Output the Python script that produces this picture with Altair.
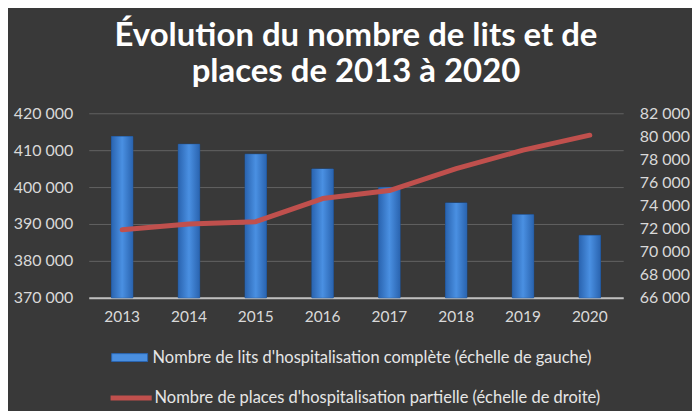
import altair as alt
import pandas as pd

years = ["2013", "2014", "2015", "2016", "2017", "2018", "2019", "2020"]
lits = [413700, 411600, 408900, 404900, 399900, 395700, 392500, 386900]
places = [71900, 72400, 72600, 74600, 75300, 77200, 78800, 80100]
label_lits = "Nombre de lits d'hospitalisation complète (échelle de gauche)"
label_places = "Nombre de places d'hospitalisation partielle (échelle de droite)"
left_ticks = [370000, 380000, 390000, 400000, 410000, 420000]
right_ticks = [66000, 68000, 70000, 72000, 74000, 76000, 78000, 80000, 82000]
title_lines = ["Évolution du nombre de lits et de", "places de 2013 à 2020"]

df = pd.DataFrame({"annee": years, "lits": lits, "places": places,
                   "s1": label_lits, "s2": label_places})

FONT = "Lato"
TXT = "#d9d9d9"
lab_expr = "replace(format(datum.value, ','), ',', ' ')"

x_enc = alt.X("annee:N", sort=years,
              scale=alt.Scale(paddingInner=0.68, paddingOuter=0.34),
              axis=alt.Axis(title=None, labelAngle=0, labelColor=TXT, labelFontSize=15.5,
                            labelFont=FONT, labelPadding=12, ticks=False,
                            domainColor="#bfbfbf", domainWidth=2, grid=False))

y_left = alt.Y("lits:Q", scale=alt.Scale(domain=[370000, 420000], zero=False, nice=False),
               axis=alt.Axis(title=None, values=left_ticks, labelExpr=lab_expr,
                             labelColor=TXT, labelFontSize=16, labelFont=FONT,
                             labelPadding=16, ticks=False, domain=False,
                             grid=True, gridColor="#626262", gridWidth=1))

base = alt.Chart(df)

bars = base.mark_bar(stroke="#1d4f8f", strokeWidth=1).encode(
    x=x_enc,
    y=y_left,
    y2=alt.Y2Datum(370000),
    color=alt.Color("s1:N", scale=alt.Scale(domain=[label_lits], range=["#4a8fe0"]),
                    legend=alt.Legend(orient="none", legendX=22, legendY=226, title=None,
                                      symbolType="M-1,-0.22H1V0.22H-1Z", symbolSize=1300,
                                      symbolStrokeColor="#2a64b0", symbolStrokeWidth=1,
                                      labelColor="#e6e6e6", labelFontSize=16.5, labelFont=FONT,
                                      labelLimit=700, labelOffset=4)),
)

bars_shine = base.mark_bar(
    color=alt.Gradient(gradient="linear", x1=0, x2=1, y1=0, y2=0,
                       stops=[alt.GradientStop(color="#2a64b0", offset=0),
                              alt.GradientStop(color="#4a90e2", offset=0.5),
                              alt.GradientStop(color="#2a64b0", offset=1)])
).encode(x=x_enc, y=y_left, y2=alt.Y2Datum(370000))

line = base.mark_line(strokeWidth=5, strokeCap="round", strokeJoin="round").encode(
    x=alt.X("annee:N", sort=years),
    y=alt.Y("places:Q", scale=alt.Scale(domain=[66000, 82000], zero=False, nice=False),
            axis=alt.Axis(title=None, orient="right", values=right_ticks, labelExpr=lab_expr,
                          labelColor=TXT, labelFontSize=16, labelFont=FONT, labelPadding=16,
                          ticks=False, domain=False, grid=False)),
    stroke=alt.Stroke("s2:N", scale=alt.Scale(domain=[label_places], range=["#c0504d"]),
                      legend=alt.Legend(orient="none", legendX=19, legendY=262, title=None,
                                        symbolType="stroke", symbolSize=1700,
                                        symbolStrokeWidth=5, labelColor="#e6e6e6",
                                        labelFontSize=16.5, labelFont=FONT, labelLimit=700,
                                        labelOffset=0)),
)

left = alt.layer(bars, bars_shine)
chart = alt.layer(left, line).resolve_scale(y="independent").properties(
    width=536, height=185,
    background="#393939",
    padding={"left": 5, "right": 2, "top": 12, "bottom": 2},
    title=alt.TitleParams(text=title_lines, fontSize=33, font=FONT, fontWeight="bold",
                          color="#ffffff", anchor="middle", offset=16, lineHeight=36),
).configure_view(stroke=None)

chart.save("out.html", embed_options={"renderer": "svg", "actions": False})
